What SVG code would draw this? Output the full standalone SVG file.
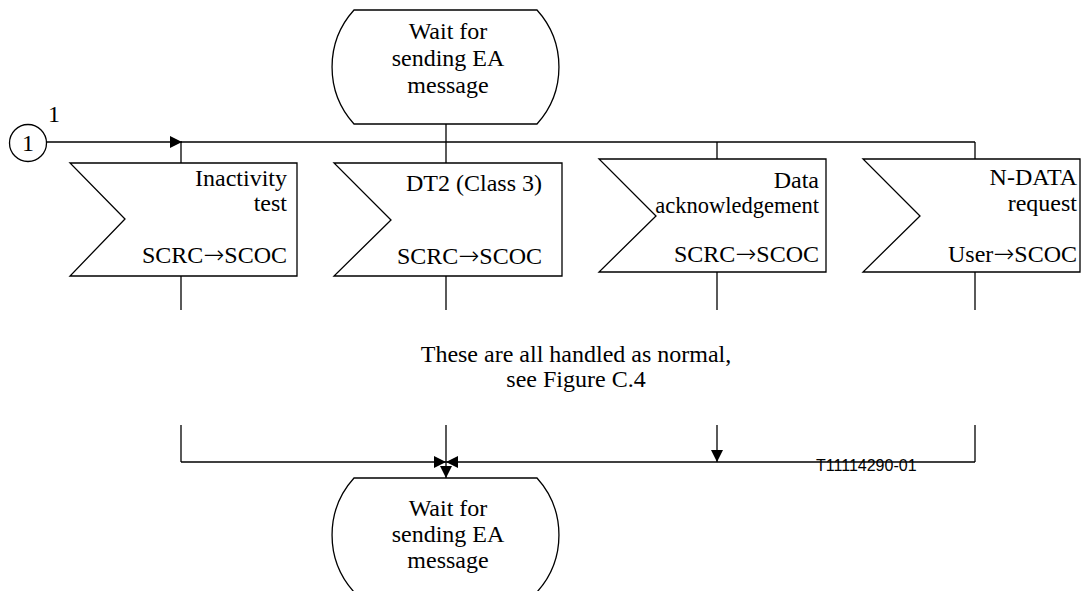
<svg xmlns="http://www.w3.org/2000/svg" width="1082" height="591" viewBox="0 0 1082 591">
<defs>
<style>
.s{fill:#fff;stroke:#000;stroke-width:1.3}
.c{fill:none;stroke:#000;stroke-width:1.3}
.t{font-family:"Liberation Serif","Times New Roman",serif;font-size:24px;fill:#000}
.m{text-anchor:middle}
.e{text-anchor:end}
.a{font-family:"DejaVu Sans",sans-serif;font-size:25px;font-weight:200}
.f{font-family:"Liberation Sans",Arial,sans-serif;font-size:16px;fill:#000}
</style>
<marker id="ah" viewBox="0 0 12 12" refX="12" refY="6" markerWidth="12" markerHeight="12" orient="auto" markerUnits="userSpaceOnUse"><path d="M0,0 L12,6 L0,12 Z" fill="#000"/></marker>
</defs>
<rect width="1082" height="591" fill="#fff"/>
<g id="connectors">
<line class="c" x1="47" y1="142" x2="182" y2="142" marker-end="url(#ah)"/>
<line class="c" x1="181" y1="142" x2="975" y2="142"/>
<line class="c" x1="181" y1="142" x2="181" y2="163"/>
<line class="c" x1="446" y1="124" x2="446" y2="163"/>
<line class="c" x1="717" y1="142" x2="717" y2="159"/>
<line class="c" x1="975" y1="142" x2="975" y2="159"/>
<line class="c" x1="181" y1="276" x2="181" y2="310"/>
<line class="c" x1="446" y1="276" x2="446" y2="310"/>
<line class="c" x1="717" y1="272" x2="717" y2="310"/>
<line class="c" x1="975" y1="272" x2="975" y2="310"/>
<line class="c" x1="181" y1="425" x2="181" y2="462"/>
<line class="c" x1="446" y1="425" x2="446" y2="462"/>
<line class="c" x1="717" y1="425" x2="717" y2="462" marker-end="url(#ah)"/>
<line class="c" x1="975" y1="425" x2="975" y2="462"/>
<line class="c" x1="181" y1="462" x2="446" y2="462" marker-end="url(#ah)"/>
<line class="c" x1="975" y1="462" x2="446" y2="462" marker-end="url(#ah)"/>
<line class="c" x1="446" y1="462" x2="446" y2="478" marker-end="url(#ah)"/>
</g>
<g id="connector1">
<circle class="s" cx="28" cy="143" r="18.5"/>
<text class="t m" x="28" y="151">1</text>
<text class="t m" x="54" y="122">1</text>
</g>
<g id="state-top">
<path class="s" d="M354,10 L537,10 A85,85 0 0 1 537,124 L354,124 A85,85 0 0 1 354,10 Z"/>
<text class="t m" x="448" y="39">Wait for</text>
<text class="t m" x="448" y="66">sending EA</text>
<text class="t m" x="448" y="93">message</text>
</g>
<g id="input-inactivity">
<polygon class="s" points="70,163 297,163 297,276 70,276 125,219"/>
<text class="t e" x="287" y="186">Inactivity</text>
<text class="t e" x="287" y="211">test</text>
<text class="t e" x="287" y="263">SCRC<tspan class="a">→</tspan>SCOC</text>
</g>
<g id="input-dt2">
<polygon class="s" points="334,163 562,163 562,276 334,276 391,220"/>
<text class="t e" x="542" y="191">DT2 (Class 3)</text>
<text class="t e" x="542" y="264">SCRC<tspan class="a">→</tspan>SCOC</text>
</g>
<g id="input-dataack">
<polygon class="s" points="599,159 826,159 826,272 599,272 656,216"/>
<text class="t e" x="819" y="188">Data</text>
<text class="t e" x="819" y="213" style="font-size:22.5px">acknowledgement</text>
<text class="t e" x="819" y="262">SCRC<tspan class="a">→</tspan>SCOC</text>
</g>
<g id="input-ndata">
<polygon class="s" points="863,159 1080,159 1080,272 863,272 920,216"/>
<text class="t e" x="1077" y="185">N-DATA</text>
<text class="t e" x="1077" y="211">request</text>
<text class="t e" x="1077" y="262">User<tspan class="a">→</tspan>SCOC</text>
</g>
<g id="note">
<text class="t m" x="576" y="362">These are all handled as normal,</text>
<text class="t m" x="576" y="387">see Figure C.4</text>
</g>
<g id="state-bottom">
<path class="s" d="M354,478 L537,478 A85,85 0 0 1 537,592 L354,592 A85,85 0 0 1 354,478 Z"/>
<text class="t m" x="448" y="516">Wait for</text>
<text class="t m" x="448" y="542">sending EA</text>
<text class="t m" x="448" y="568">message</text>
</g>
<g id="figure-id">
<text class="f" x="816" y="471">T11114290-01</text>
</g>
</svg>
